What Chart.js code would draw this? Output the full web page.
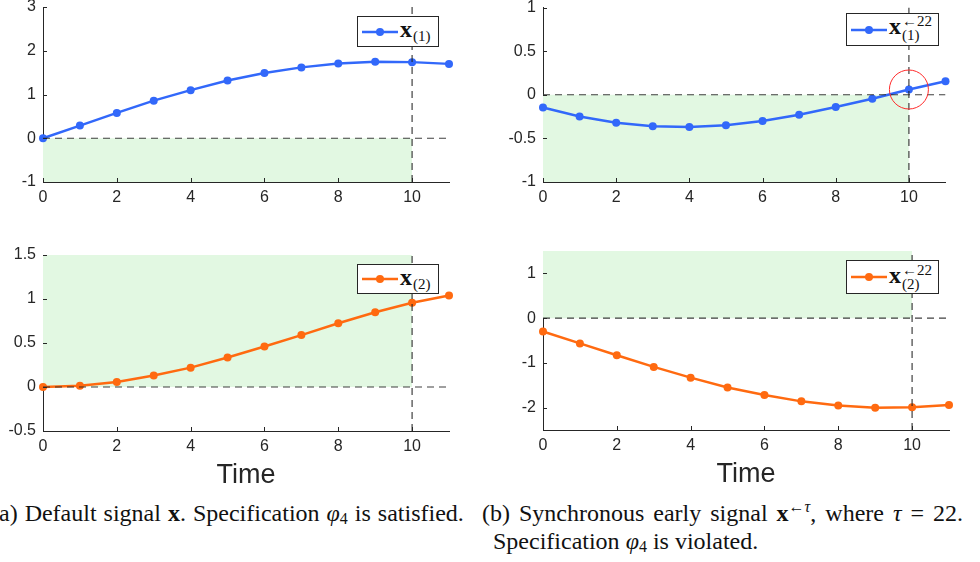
<!DOCTYPE html>
<html>
<head>
<meta charset="utf-8">
<script src="https://cdn.jsdelivr.net/npm/chart.js@4.4.1/dist/chart.umd.min.js"></script>
<style>
  body { margin: 0; background: #fff; }
  #fig { position: relative; width: 980px; height: 562px; overflow: hidden; background: #fff; }
  #fig canvas { position: absolute; }
  .lg { position: absolute; box-sizing: border-box; border: 1px solid #262626; background: #fff;
        font-family: "Liberation Serif", serif; color: #111; }
  .lg svg { position: absolute; left: 3px; top: 0; }
  .lg span { position: absolute; line-height: 1; white-space: nowrap; }
  .lg .x { font-size: 24px; font-weight: bold; }
  .lg .s { font-size: 15px; }
  .cap { position: absolute; font-family: "Liberation Serif", serif; font-size: 24px; color: #111;
         white-space: nowrap; line-height: 1; }
  .cap i { font-style: italic; }
  .cap sub { font-size: 16px; vertical-align: -3px; line-height: 0; }
  .cap sup { font-size: 16px; vertical-align: 9px; line-height: 0; }
</style>
</head>
<body>
<div id="fig">
  <canvas id="c-x1"></canvas>
  <canvas id="c-x1e"></canvas>
  <canvas id="c-x2"></canvas>
  <canvas id="c-x2e"></canvas>
  <div class="cap" style="left:-9px;top:501px;word-spacing:1px">(a) Default signal <b>x</b>. Specification <i>φ</i><sub>4</sub> is satisfied.</div>
  <div class="cap" style="left:482px;top:501px;word-spacing:3px">(b) Synchronous early signal <b>x</b><sup>←<i>τ</i></sup>, where <i>τ</i> = 22.</div>
  <div class="cap" style="left:493px;top:529px">Specification <i>φ</i><sub>4</sub> is violated.</div>
</div>
<script>
// time steps shared by every panel
const timeSteps = [0, 1, 2, 3, 4, 5, 6, 7, 8, 9, 10, 11];
const xTickValues = [0, 2, 4, 6, 8, 10];

// default signal x
const x1 = [0, 0.29, 0.58, 0.86, 1.10, 1.32, 1.49, 1.62, 1.71, 1.75, 1.74, 1.70];
const x2 = [0, 0.015, 0.057, 0.13, 0.22, 0.335, 0.46, 0.59, 0.725, 0.85, 0.958, 1.04];

// synchronous early signal, tau = 22
const x1Early = [-0.146, -0.25, -0.32, -0.36, -0.37, -0.35, -0.30, -0.23, -0.14, -0.045, 0.06, 0.154];
const x2Early = [-0.30, -0.565, -0.83, -1.09, -1.33, -1.55, -1.72, -1.86, -1.95, -2.0, -1.99, -1.94];

// y ranges [min, max] and tick labels
const yRangeX1 = [-1, 3];
const yTicksX1 = [-1, 0, 1, 2, 3];
const yRangeX1Early = [-1, 1];
const yTicksX1Early = [-1, -0.5, 0, 0.5, 1];
const yRangeX2 = [-0.5, 1.5];
const yTicksX2 = [-0.5, 0, 0.5, 1, 1.5];
const yRangeX2Early = [-2.5, 1.5];
const yTicksX2Early = [-2, -1, 0, 1];

// spec region (green) [bottom, top], deadline and threshold
const regionX1 = [-1, 0];
const regionX2 = [0, 1.5];
const deadline = 10;
const threshold = 0;

const BLUE = '#3268fa';
const ORANGE = '#ff6a10';
const GREEN = 'rgb(226,248,226)';
const AXIS = '#262626';
const DASH = 'rgba(30,30,30,0.85)';

const PAD_TOP = 17, PAD_RIGHT = 17;

// inward MATLAB style tick marks
const inwardTicks = {
  id: 'inwardTicks',
  afterDraw(chart) {
    const {ctx, chartArea, scales: {x, y}} = chart;
    ctx.save();
    ctx.strokeStyle = AXIS;
    ctx.lineWidth = 1;
    ctx.beginPath();
    x.ticks.forEach(t => {
      const px = Math.round(x.getPixelForValue(t.value)) + 0.5;
      ctx.moveTo(px, chartArea.bottom);
      ctx.lineTo(px, chartArea.bottom - 4);
    });
    y.ticks.forEach(t => {
      const py = Math.round(y.getPixelForValue(t.value)) + 0.5;
      ctx.moveTo(chartArea.left, py);
      ctx.lineTo(chartArea.left + 4, py);
    });
    ctx.stroke();
    ctx.restore();
  }
};

function makePanel(p) {
  const canvas = document.getElementById(p.id);
  const yW = p.area.l - p.colLeft;
  const xH = p.showTitle ? 60 : 30;
  canvas.width = p.area.r + PAD_RIGHT - p.colLeft;
  canvas.height = (p.area.b - p.area.t) + PAD_TOP + xH;
  canvas.style.left = p.colLeft + 'px';
  canvas.style.top = (p.area.t - PAD_TOP) + 'px';

  const [yMin, yMax] = p.yRange;
  const datasets = [];

  if (p.violation) {
    datasets.push({
      data: [{x: deadline, y: p.values[timeSteps.indexOf(deadline)]}],
      showLine: false, pointRadius: 19.5, pointBorderWidth: 1,
      pointBorderColor: '#ff2a2a', pointBackgroundColor: 'rgba(0,0,0,0)',
      clip: false, order: 0
    });
  }
  const dashed = {borderColor: DASH, borderWidth: 1.2, borderDash: [7, 5], pointRadius: 0, fill: false, order: 1};
  datasets.push({...dashed, data: [{x: timeSteps[0], y: threshold}, {x: timeSteps[timeSteps.length - 1], y: threshold}]});
  datasets.push({...dashed, data: [{x: deadline, y: yMin}, {x: deadline, y: yMax}]});
  datasets.push({
    data: timeSteps.map((t, i) => ({x: t, y: p.values[i]})),
    borderColor: p.color, backgroundColor: p.color, borderWidth: 2.5,
    pointRadius: 4, pointBorderWidth: 0, pointBackgroundColor: p.color,
    tension: 0, fill: false, clip: false, order: 2
  });
  datasets.push({
    data: [{x: timeSteps[0], y: p.region[1]}, {x: deadline, y: p.region[1]}],
    borderWidth: 0, pointRadius: 0, backgroundColor: GREEN,
    fill: {value: p.region[0]}, order: 3
  });

  const tickFont = {family: '"Liberation Sans", Arial, sans-serif', size: 16};
  new Chart(canvas, {
    type: 'line',
    data: {datasets},
    options: {
      responsive: false,
      devicePixelRatio: 1,
      animation: false,
      events: [],
      layout: {padding: {top: PAD_TOP, right: PAD_RIGHT, left: 0, bottom: 0}},
      plugins: {legend: {display: false}, tooltip: {enabled: false}},
      scales: {
        x: {
          type: 'linear', min: timeSteps[0], max: timeSteps[timeSteps.length - 1],
          grid: {display: false, drawTicks: false},
          border: {display: true, color: AXIS, width: 1},
          ticks: {padding: 6, color: AXIS, font: tickFont, maxRotation: 0, callback: v => `${v}`},
          afterBuildTicks: s => { s.ticks = xTickValues.map(v => ({value: v})); },
          title: {display: !!p.showTitle, text: 'Time', color: AXIS,
                  font: {family: '"Liberation Sans", Arial, sans-serif', size: 27, lineHeight: 1},
                  padding: {top: 0, bottom: 2}},
          afterFit: s => { s.height = xH; }
        },
        y: {
          min: yMin, max: yMax,
          grid: {display: false, drawTicks: false},
          border: {display: true, color: AXIS, width: 1},
          ticks: {padding: 7, color: AXIS, font: tickFont, callback: v => `${v}`},
          afterBuildTicks: s => { s.ticks = p.yTicks.map(v => ({value: v})); },
          afterFit: s => { s.width = yW; }
        }
      }
    },
    plugins: [inwardTicks]
  });

  // legend box with LaTeX-like label
  const lg = document.createElement('div');
  lg.className = 'lg';
  lg.style.left = p.legend.l + 'px';
  lg.style.top = p.legend.t + 'px';
  lg.style.width = p.legend.w + 'px';
  lg.style.height = p.legend.h + 'px';
  const cy = Math.round(p.legend.h / 2) - 1;
  let html = `<svg width="40" height="${p.legend.h}"><line x1="1" y1="${cy}" x2="37" y2="${cy}" stroke="${p.color}" stroke-width="2.5"/>` +
             `<circle cx="19" cy="${cy}" r="4" fill="${p.color}"/></svg>` +
             `<span class="x" style="left:42px;top:${p.legend.xb - 20}px">x</span>`;
  if (p.shift) {
    html += `<span class="s" style="left:55px;top:${p.legend.xb - 20}px">←22</span>` +
            `<span class="s" style="left:55px;top:${p.legend.xb - 6}px">(${p.sub})</span>`;
  } else {
    html += `<span class="s" style="left:55px;top:${p.legend.xb - 8}px">(${p.sub})</span>`;
  }
  lg.innerHTML = html;
  document.getElementById('fig').appendChild(lg);
}

makePanel({id: 'c-x1', colLeft: 0, area: {l: 43, t: 7, r: 449, b: 182}, yRange: yRangeX1, yTicks: yTicksX1,
           values: x1, color: BLUE, region: regionX1, sub: 1,
           legend: {l: 357, t: 16, w: 82, h: 31, xb: 20}});
makePanel({id: 'c-x1e', colLeft: 500, area: {l: 543, t: 4, r: 949, b: 182}, yRange: yRangeX1Early, yTicks: yTicksX1Early,
           values: x1Early, color: BLUE, region: regionX1, sub: 1, shift: true, violation: true,
           legend: {l: 846, t: 13, w: 93, h: 33, xb: 20}});
makePanel({id: 'c-x2', colLeft: 0, area: {l: 43, t: 255, r: 449, b: 431}, yRange: yRangeX2, yTicks: yTicksX2,
           values: x2, color: ORANGE, region: regionX2, sub: 2, showTitle: true,
           legend: {l: 357, t: 264, w: 82, h: 30, xb: 20}});
makePanel({id: 'c-x2e', colLeft: 500, area: {l: 543, t: 251, r: 949, b: 430}, yRange: yRangeX2Early, yTicks: yTicksX2Early,
           values: x2Early, color: ORANGE, region: regionX2, sub: 2, shift: true, showTitle: true,
           legend: {l: 846, t: 260, w: 93, h: 34, xb: 22}});
</script>
</body>
</html>
